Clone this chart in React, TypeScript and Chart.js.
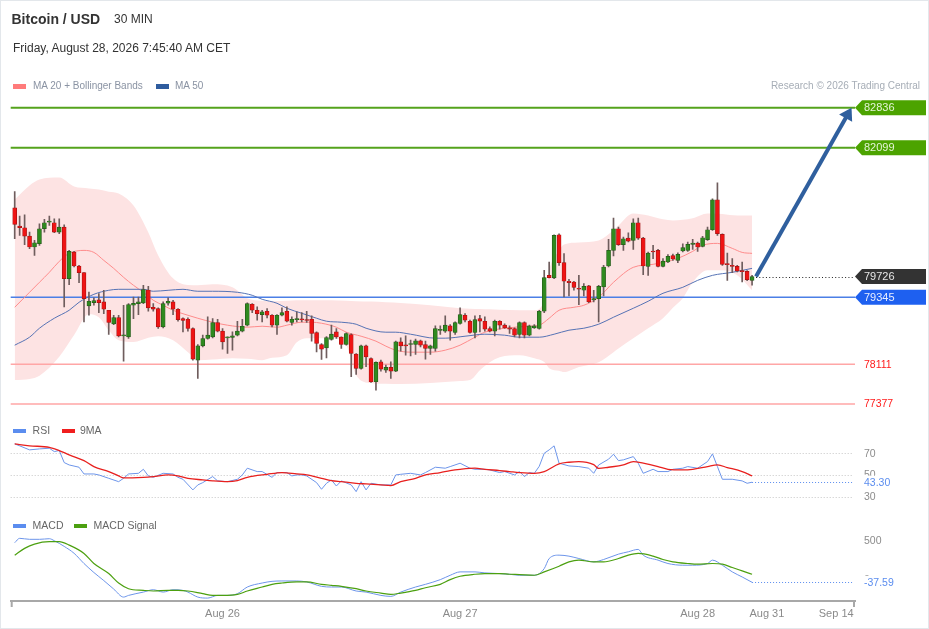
import React, { useEffect, useRef } from 'react';
import { Chart, registerables } from 'chart.js';

Chart.register(...registerables);

const FONT = 'Arial, "Liberation Sans", Helvetica, sans-serif';

// ---------- x axis ----------
const tickIdx = [42, 90, 138, 152, 166];
const tickLabels = ['Aug 26', 'Aug 27', 'Aug 28', 'Aug 31', 'Sep 14'];

// ---------- candles (30 min, index 0 = Aug 25 03:00) ----------
const candleOpen = [
  80993, 80656, 80625, 80472, 80270, 80331, 80607, 80729, 80717, 80545,
  80637, 79688, 80178, 79920, 79798, 79185, 79246, 79295, 79259, 79106,
  78854, 78971, 78634, 78615, 79197, 79228, 79240, 79479, 79161, 79136,
  78799, 79234, 79259, 79124, 78952, 78940, 78769, 78187, 78450, 78585,
  78615, 78879, 78720, 78597, 78603, 78646, 78720, 78830, 79216, 79106,
  79026, 79087, 79014, 78830, 79014, 79087, 78879, 78934, 78934, 78922,
  78940, 78695, 78474, 78413, 78567, 78707, 78609, 78474, 78658, 78297,
  78033, 78450, 78217, 77788, 78156, 78003, 78052, 77984, 78524, 78462,
  78474, 78474, 78542, 78474, 78401, 78401, 78732, 78720, 78818, 78695,
  78861, 79014, 78903, 78695, 78952, 78903, 78769, 78720, 78903, 78830,
  78781, 78769, 78658, 78879, 78646, 78781, 78769, 79087, 79749, 79700,
  80496, 79982, 79639, 79626, 79504, 79473, 79553, 79295, 79320, 79535,
  79920, 80208, 80607, 80313, 80435, 80392, 80717, 80435, 79914, 80190,
  80208, 79914, 79994, 80110, 80025, 80196, 80208, 80319, 80343, 80282,
  80404, 80588, 81140, 80503, 79957, 79927, 79914, 79828, 79822, 79657,
];
const candleHigh = [
  81293, 80839, 80864, 80545, 80392, 80699, 80778, 80839, 80790, 80790,
  80680, 80208, 80190, 79933, 79798, 79442, 79332, 79412, 79473, 79106,
  79014, 79014, 79197, 79228, 79350, 79350, 79565, 79547, 79228, 79148,
  79259, 79332, 79289, 79136, 78965, 78965, 78781, 78474, 78646, 78983,
  78952, 78940, 78769, 78615, 78707, 78903, 78940, 79240, 79228, 79167,
  79106, 79136, 79026, 79026, 79148, 79167, 78983, 79075, 79063, 79087,
  79001, 78707, 78493, 78621, 78830, 78769, 78615, 78689, 78671, 78309,
  78462, 78462, 78229, 78156, 78187, 78095, 78156, 78536, 78597, 78634,
  78554, 78573, 78554, 78536, 78462, 78818, 78818, 79001, 78842, 78891,
  79148, 79044, 78922, 79001, 79014, 78983, 78799, 78922, 78916, 78854,
  78818, 78781, 78891, 78891, 78830, 78842, 79106, 79841, 79994, 80496,
  80515, 80147, 79675, 79639, 79749, 79596, 79565, 79473, 79565, 79933,
  80411, 80803, 80637, 80453, 80533, 80790, 80803, 80447, 80178, 80300,
  80227, 80055, 80129, 80141, 80165, 80331, 80362, 80411, 80362, 80466,
  80637, 81158, 81452, 80515, 80159, 80055, 79933, 79994, 79835, 79749,
];
const candleLow = [
  80423, 80484, 80313, 80239, 80116, 80300, 80545, 80668, 80533, 80515,
  79167, 79577, 79902, 79614, 78891, 79014, 79197, 79063, 79044, 78658,
  78842, 78615, 78168, 78585, 78952, 79026, 79228, 79087, 79087, 78769,
  78781, 79197, 79026, 78903, 78707, 78720, 78187, 77849, 78432, 78573,
  78597, 78707, 78389, 78309, 78370, 78634, 78707, 78818, 79063, 78922,
  78891, 78965, 78799, 78658, 79001, 78891, 78830, 78891, 78891, 78879,
  78536, 78340, 78199, 78229, 78554, 78585, 78401, 78462, 77880, 77923,
  78021, 78064, 77776, 77635, 77984, 77960, 77849, 77972, 78352, 78278,
  78266, 78291, 78432, 78205, 78291, 78352, 78658, 78695, 78554, 78658,
  78848, 78891, 78683, 78597, 78707, 78720, 78707, 78634, 78756, 78769,
  78677, 78615, 78597, 78597, 78634, 78769, 78756, 79063, 79700, 79688,
  79933, 79350, 79369, 79473, 79210, 79369, 79246, 79259, 78891, 79369,
  79902, 80104, 80300, 80208, 80362, 80227, 80411, 79761, 79749, 80055,
  79902, 79902, 79982, 80025, 79982, 80178, 80190, 80227, 80190, 80270,
  80392, 80576, 80484, 79933, 79657, 79798, 79810, 79626, 79651, 79565,
];
const candleClose = [
  80686, 80625, 80472, 80270, 80349, 80607, 80717, 80742, 80545, 80637,
  79688, 80190, 79920, 79798, 79320, 79271, 79283, 79246, 79124, 78879,
  78971, 78634, 78646, 79210, 79234, 79259, 79485, 79148, 79124, 78799,
  79228, 79271, 79124, 78934, 78916, 78769, 78205, 78450, 78585, 78646,
  78879, 78720, 78524, 78603, 78634, 78720, 78811, 79228, 79106, 79044,
  79075, 79014, 78830, 79014, 79063, 78903, 78940, 78940, 78928, 78916,
  78677, 78493, 78389, 78603, 78665, 78615, 78474, 78677, 78309, 78033,
  78450, 78248, 77788, 78144, 78021, 78052, 77984, 78524, 78450, 78450,
  78481, 78542, 78462, 78401, 78450, 78769, 78756, 78830, 78720, 78879,
  79026, 78922, 78695, 78934, 78903, 78756, 78720, 78903, 78830, 78781,
  78756, 78646, 78879, 78646, 78818, 78818, 79087, 79706, 79706, 80484,
  79982, 79639, 79614, 79528, 79492, 79547, 79259, 79320, 79547, 79902,
  80208, 80607, 80313, 80423, 80380, 80717, 80435, 79920, 80159, 80178,
  79914, 80012, 80098, 80049, 80135, 80258, 80319, 80343, 80270, 80441,
  80588, 81140, 80515, 79951, 79945, 79914, 79828, 79816, 79669, 79726,
];

// ---------- Bollinger bands (MA 20) ----------
const bandIdx = [0, 3, 5, 9, 12, 15, 17, 19, 21, 24, 27, 29, 32, 35, 37, 40, 44, 47, 50, 52, 55, 57, 59, 64, 67, 69, 72, 75, 78, 84, 90, 92, 94, 96, 98, 102, 105, 107, 108, 110, 111, 114, 118, 121, 122, 125, 128, 131, 133, 135, 137, 140, 143, 146, 149];
const bandUpper = [81145, 81403, 81513, 81550, 81384, 81350, 81329, 81290, 81256, 81035, 80539, 80116, 79693, 79570, 79565, 79583, 79528, 79326, 79280, 79271, 79280, 79289, 79289, 79289, 79280, 79271, 79265, 79252, 79240, 79197, 79142, 79135, 79130, 79124, 79115, 79105, 79105, 79289, 79840, 80208, 80318, 80355, 80392, 80580, 80668, 80888, 80851, 80780, 80759, 80770, 80800, 80888, 80880, 80851, 80851];
const bandLower = [77819, 77840, 77900, 78250, 78650, 79032, 78977, 78738, 78554, 78520, 78600, 78627, 78554, 78333, 78186, 78200, 78223, 78210, 78186, 78230, 78278, 78517, 78591, 78591, 78462, 77910, 77764, 77750, 77745, 77764, 77800, 77819, 78002, 78149, 78241, 78278, 78220, 78150, 78039, 77990, 77966, 78060, 78149, 78333, 78400, 78591, 78774, 78958, 79150, 79326, 79620, 79840, 79840, 79748, 79473];

const ma20Idx = [0, 3, 5, 7, 9, 11, 14, 16, 18, 20, 22, 24, 26, 28, 30, 32, 35, 37, 40, 43, 47, 50, 53, 55, 58, 60, 62, 65, 67, 70, 73, 75, 77, 80, 84, 87, 90, 93, 95, 99, 104, 106, 108, 110, 113, 115, 118, 121, 125, 129, 131, 134, 137, 139, 142, 145, 147, 149];
const ma20 = [79160, 79436, 79620, 79804, 80006, 80153, 80208, 80171, 80024, 79877, 79712, 79565, 79436, 79289, 79197, 79105, 79013, 78958, 78885, 78830, 78793, 78811, 78793, 78830, 78885, 78885, 78866, 78793, 78701, 78627, 78536, 78444, 78370, 78333, 78333, 78370, 78462, 78609, 78701, 78774, 78811, 78830, 78958, 79105, 79160, 79197, 79344, 79620, 79896, 79951, 79987, 80061, 80190, 80300, 80337, 80245, 80171, 80153];

const ma50Idx = [0, 3, 5, 8, 11, 13, 16, 19, 21, 26, 28, 31, 34, 37, 40, 45, 48, 50, 53, 55, 58, 61, 63, 66, 69, 71, 75, 77, 80, 85, 87, 91, 95, 99, 102, 106, 109, 112, 115, 118, 121, 125, 128, 131, 135, 138, 141, 145, 149];
const ma50 = [78462, 78609, 78774, 78958, 79105, 79252, 79399, 79473, 79491, 79491, 79455, 79473, 79491, 79455, 79455, 79436, 79381, 79307, 79234, 79142, 79050, 78958, 78903, 78885, 78848, 78774, 78701, 78701, 78664, 78591, 78591, 78627, 78664, 78646, 78609, 78609, 78664, 78738, 78774, 78848, 78977, 79142, 79271, 79418, 79528, 79656, 79748, 79804, 79877];

// ---------- levels ----------
const resistanceLevels = [82836, 82099];
const pivotLevel = 79345;
const supportLevels = [78111, 77377];
const lastPrice = 79726;
const arrowFrom = [149.8, 79726];
const arrowTo = [169.1, 82836];

// ---------- RSI ----------
const rsiIdx = [0, 1, 3, 5, 7, 8, 9, 10, 11, 13, 14, 16, 17, 19, 21, 22, 23, 25, 26, 27, 28, 30, 32, 33, 34, 36, 37, 38, 40, 41, 43, 45, 46, 47, 49, 50, 52, 53, 55, 56, 57, 58, 59, 61, 62, 63, 64, 65, 66, 68, 69, 70, 71, 72, 74, 75, 76, 77, 78, 80, 82, 83, 85, 87, 88, 90, 92, 93, 95, 96, 98, 99, 101, 102, 103, 104, 105, 106, 107, 108, 109, 110, 112, 114, 116, 117, 118, 120, 121, 122, 123, 125, 126, 127, 129, 130, 132, 133, 135, 136, 138, 140, 141, 142, 143, 145, 147, 148, 149];
const rsiVals = [78.6, 76.8, 73.1, 74.0, 74.6, 71.5, 72.5, 61.4, 59.2, 57.1, 50.9, 50.9, 50.0, 46.9, 43.8, 46.9, 50.9, 51.5, 55.2, 49.1, 47.8, 51.5, 50.9, 47.8, 46.0, 36.2, 40.8, 42.9, 48.5, 44.5, 43.8, 46.0, 50.0, 56.2, 53.1, 53.1, 47.8, 52.2, 52.2, 49.1, 50.0, 50.0, 49.1, 42.9, 36.8, 42.3, 45.4, 39.8, 44.5, 40.8, 34.6, 43.8, 36.2, 42.3, 40.8, 40.8, 40.8, 50.0, 50.6, 51.5, 50.0, 52.2, 57.1, 56.2, 57.7, 60.8, 56.2, 55.2, 55.2, 54.6, 52.2, 53.1, 50.0, 53.1, 48.5, 52.2, 51.5, 58.0, 70.0, 73.1, 76.8, 60.8, 58.3, 57.7, 56.2, 51.5, 59.2, 64.5, 69.1, 63.2, 63.9, 66.9, 60.8, 51.5, 55.2, 53.1, 53.1, 55.2, 56.2, 57.7, 56.2, 62.3, 69.4, 57.7, 46.0, 46.0, 44.5, 42.3, 43.3];
const rsiMaIdx = [0, 3, 7, 9, 11, 14, 16, 19, 21, 22, 26, 28, 31, 33, 35, 38, 40, 43, 45, 47, 51, 54, 57, 59, 62, 64, 66, 69, 71, 74, 76, 78, 81, 83, 86, 88, 90, 93, 95, 98, 100, 102, 105, 107, 110, 112, 114, 117, 118, 120, 123, 125, 127, 130, 132, 135, 137, 140, 142, 144, 147, 149];
const rsiMaVals = [78.6, 76.8, 75.5, 72.5, 68.5, 63.2, 57.7, 53.1, 49.1, 47.2, 47.8, 48.5, 50.0, 49.1, 46.9, 45.4, 44.5, 43.8, 44.8, 47.8, 50.6, 52.2, 50.9, 50.0, 46.9, 44.8, 43.8, 42.3, 41.7, 40.8, 40.2, 43.8, 46.9, 50.0, 52.2, 54.0, 55.2, 56.2, 55.2, 54.0, 53.1, 52.2, 51.5, 53.1, 60.2, 61.7, 62.3, 59.5, 56.0, 57.1, 59.2, 62.3, 60.8, 57.7, 55.2, 54.6, 55.2, 57.7, 59.2, 56.8, 53.1, 49.1];
const rsiGrid = [70, 50, 30];
const rsiLast = 43.3;

// ---------- MACD ----------
const macdIdx = [0, 1, 3, 5, 7, 8, 10, 12, 14, 16, 18, 20, 22, 23, 26, 28, 30, 32, 34, 35, 37, 39, 41, 43, 45, 47, 50, 52, 54, 57, 59, 62, 64, 66, 69, 71, 74, 76, 78, 81, 83, 86, 88, 90, 93, 95, 98, 100, 102, 105, 107, 108, 110, 112, 114, 117, 119, 122, 124, 126, 127, 130, 132, 135, 137, 140, 141, 143, 145, 147, 149];
const macdVals = [478, 535, 522, 522, 530, 504, 430, 340, 207, 90, -15, -125, -230, -208, -165, -134, -165, -134, -143, -165, -230, -243, -208, -208, -186, -99, -47, -25, -20, -20, -33, -90, -99, -99, -151, -165, -208, -221, -165, -99, -64, -3, 54, 98, 98, 85, 76, 67, 54, 54, 141, 272, 316, 303, 272, 229, 259, 329, 360, 391, 316, 251, 207, 185, 185, 207, 251, 185, 98, 32, -37.59];
const sigIdx = [0, 2, 4, 7, 9, 11, 14, 16, 19, 21, 23, 26, 28, 31, 33, 35, 38, 40, 42, 45, 47, 50, 52, 54, 57, 59, 62, 64, 66, 69, 71, 74, 76, 78, 81, 83, 86, 88, 90, 93, 95, 98, 100, 102, 105, 107, 110, 112, 114, 117, 119, 122, 124, 126, 129, 131, 133, 136, 138, 141, 143, 145, 147, 149];
const sigVals = [316, 404, 460, 491, 491, 447, 338, 207, 76, -47, -121, -143, -151, -143, -143, -151, -186, -208, -208, -195, -151, -99, -64, -47, -33, -33, -64, -77, -90, -121, -151, -178, -195, -178, -143, -108, -64, -3, 41, 67, 76, 76, 67, 63, 54, 98, 172, 229, 251, 229, 229, 272, 316, 338, 303, 259, 229, 207, 198, 207, 198, 155, 111, 67];
const macdTicks = [500, 0];
const macdLast = -37.59;

const pts = (xs: number[], ys: number[]) => xs.map((x, i) => ({ x, y: ys[i] }));

const overlayPlugin = {
  id: 'overlay',
  beforeDatasetsDraw(chart: any) {
    const { ctx, chartArea: a, scales } = chart;
    const yP = scales.yP;
    const yR = scales.yR;
    ctx.save();
    ctx.lineWidth = 1;
    ctx.strokeStyle = '#c6c6c6';
    ctx.setLineDash([1, 2]);
    for (const v of rsiGrid) {
      const py = Math.round(yR.getPixelForValue(v)) + 0.5;
      ctx.beginPath();
      ctx.moveTo(a.left, py);
      ctx.lineTo(a.right - 2, py);
      ctx.stroke();
    }
    ctx.setLineDash([]);
    const hline = (p: number, color: string, w: number) => {
      const py = yP.getPixelForValue(p);
      ctx.strokeStyle = color;
      ctx.lineWidth = w;
      ctx.beginPath();
      ctx.moveTo(a.left, py);
      ctx.lineTo(a.right, py);
      ctx.stroke();
    };
    resistanceLevels.forEach((p) => hline(p, '#55a31c', 2));
    hline(pivotLevel, '#4b7fe6', 1.5);
    supportLevels.forEach((p) => hline(p, '#ffa6a6', 1.5));
    ctx.restore();
  },
  afterDraw(chart: any) {
    const { ctx, chartArea: a, scales } = chart;
    const x = scales.x;
    const yP = scales.yP;
    const yR = scales.yR;
    const yM = scales.yM;
    ctx.save();

    // last price dotted line
    const lx = x.getPixelForValue(arrowFrom[0]);
    const lpy = Math.round(yP.getPixelForValue(lastPrice)) + 0.5;
    ctx.setLineDash([1, 2.3]);
    ctx.strokeStyle = '#222';
    ctx.lineWidth = 1;
    ctx.beginPath();
    ctx.moveTo(lx, lpy);
    ctx.lineTo(a.right, lpy);
    ctx.stroke();
    ctx.setLineDash([]);

    // arrow
    const x0 = x.getPixelForValue(arrowFrom[0]);
    const y0 = yP.getPixelForValue(arrowFrom[1]);
    const x1 = x.getPixelForValue(arrowTo[0]);
    const y1 = yP.getPixelForValue(arrowTo[1]);
    const ang = Math.atan2(y1 - y0, x1 - x0);
    const hl = 12;
    const hw = 7.5;
    const bx = x1 - hl * Math.cos(ang);
    const by = y1 - hl * Math.sin(ang);
    ctx.strokeStyle = '#2f5f9e';
    ctx.fillStyle = '#2f5f9e';
    ctx.lineWidth = 4;
    ctx.beginPath();
    ctx.moveTo(x0, y0);
    ctx.lineTo(bx + Math.cos(ang), by + Math.sin(ang));
    ctx.stroke();
    ctx.beginPath();
    ctx.moveTo(x1, y1);
    ctx.lineTo(bx + hw * Math.sin(ang), by - hw * Math.cos(ang));
    ctx.lineTo(bx - hw * Math.sin(ang), by + hw * Math.cos(ang));
    ctx.closePath();
    ctx.fill();

    // price tags
    const tagRight = a.right + 71;
    const tag = (p: number, fill: string, txt: string) => {
      const py = yP.getPixelForValue(p);
      const h = 15;
      ctx.fillStyle = fill;
      ctx.beginPath();
      ctx.moveTo(a.right, py);
      ctx.lineTo(a.right + 7, py - h / 2);
      ctx.lineTo(tagRight, py - h / 2);
      ctx.lineTo(tagRight, py + h / 2);
      ctx.lineTo(a.right + 7, py + h / 2);
      ctx.closePath();
      ctx.fill();
      ctx.fillStyle = txt;
      ctx.font = `11px ${FONT}`;
      ctx.textBaseline = 'middle';
      ctx.textAlign = 'left';
      ctx.fillText(String(p), a.right + 9, py + 0.5);
    };
    resistanceLevels.forEach((p) => tag(p, '#4ca300', '#e4f4d6'));
    tag(lastPrice, '#333333', '#e6e6e6');
    tag(pivotLevel, '#1e60f0', '#e8eeff');
    ctx.font = `10.5px ${FONT}`;
    ctx.textBaseline = 'middle';
    ctx.fillStyle = '#ff1a1a';
    supportLevels.forEach((p) => ctx.fillText(String(p), a.right + 9, yP.getPixelForValue(p) + 0.5));

    // RSI labels
    ctx.fillStyle = '#8c8c8c';
    rsiGrid.forEach((v) => ctx.fillText(String(v), a.right + 9, yR.getPixelForValue(v) + 0.5));
    const rpy = yR.getPixelForValue(rsiLast);
    ctx.setLineDash([1, 2]);
    ctx.strokeStyle = '#5b8def';
    ctx.lineWidth = 1;
    ctx.beginPath();
    ctx.moveTo(x.getPixelForValue(149), Math.round(rpy) + 0.5);
    ctx.lineTo(a.right - 2, Math.round(rpy) + 0.5);
    ctx.stroke();
    ctx.setLineDash([]);
    ctx.fillStyle = '#ffffff';
    ctx.fillRect(a.right + 5, rpy - 6.5, 44, 13);
    ctx.fillStyle = '#5b8def';
    ctx.fillText(rsiLast.toFixed(2), a.right + 9, rpy + 0.5);

    // MACD labels
    ctx.fillStyle = '#8c8c8c';
    macdTicks.forEach((v) => ctx.fillText(String(v), a.right + 9, yM.getPixelForValue(v) + 0.5));
    const mpy = yM.getPixelForValue(macdLast);
    ctx.setLineDash([1, 2]);
    ctx.strokeStyle = '#5b8def';
    ctx.beginPath();
    ctx.moveTo(x.getPixelForValue(149), Math.round(mpy) + 0.5);
    ctx.lineTo(a.right - 2, Math.round(mpy) + 0.5);
    ctx.stroke();
    ctx.setLineDash([]);
    ctx.fillStyle = '#ffffff';
    ctx.fillRect(a.right + 5, mpy - 6.5, 44, 13);
    ctx.fillStyle = '#5b8def';
    ctx.fillText(macdLast.toFixed(2), a.right + 9, mpy + 0.5);

    // axis end ticks
    ctx.strokeStyle = '#a8a8a8';
    ctx.lineWidth = 2;
    [a.left + 1, a.right - 1].forEach((px) => {
      ctx.beginPath();
      ctx.moveTo(px, a.bottom);
      ctx.lineTo(px, a.bottom + 6);
      ctx.stroke();
    });
    ctx.restore();
  },
};

function Txt(props: any) {
  const { x, right, cy, size, color, weight, children } = props;
  const lh = Math.round(size * 1.2);
  return (
    <div
      style={{
        position: 'absolute',
        left: right === undefined ? x : undefined,
        right,
        top: cy - lh / 2,
        fontSize: size,
        lineHeight: lh + 'px',
        color,
        fontWeight: weight || 400,
        fontFamily: FONT,
        whiteSpace: 'nowrap',
      }}
    >
      {children}
    </div>
  );
}

function Swatch(props: any) {
  const { x, y, color } = props;
  return <div style={{ position: 'absolute', left: x, top: y, width: 13, height: 4.5, background: color }} />;
}

export default function App() {
  const ref = useRef<HTMLCanvasElement>(null);

  useEffect(() => {
    const canvas = ref.current;
    if (!canvas) return;
    const up = candleClose.map((c, i) => c >= candleOpen[i]);
    const chart = new Chart(canvas, {
      type: 'line',
      data: {
        datasets: [
          {
            label: 'BB upper',
            data: pts(bandIdx, bandUpper),
            yAxisID: 'yP',
            borderWidth: 0,
            pointRadius: 0,
            fill: '+1',
            backgroundColor: '#fde3e3',
            cubicInterpolationMode: 'monotone',
            order: 20,
          },
          {
            label: 'BB lower',
            data: pts(bandIdx, bandLower),
            yAxisID: 'yP',
            borderWidth: 0,
            pointRadius: 0,
            fill: false,
            cubicInterpolationMode: 'monotone',
            order: 19,
          },
          {
            label: 'MA 20',
            data: pts(ma20Idx, ma20),
            yAxisID: 'yP',
            borderColor: '#ff8c8c',
            borderWidth: 1,
            pointRadius: 0,
            cubicInterpolationMode: 'monotone',
            order: 10,
          },
          {
            label: 'MA 50',
            data: pts(ma50Idx, ma50),
            yAxisID: 'yP',
            borderColor: '#5673b5',
            borderWidth: 1,
            pointRadius: 0,
            cubicInterpolationMode: 'monotone',
            order: 9,
          },
          {
            type: 'bar',
            label: 'wick',
            data: candleOpen.map((_, i) => ({ x: i, y: [candleLow[i], candleHigh[i]] })),
            yAxisID: 'yP',
            barThickness: 1,
            backgroundColor: '#6f5d5d',
            borderWidth: 0,
            grouped: false,
            order: 2,
          },
          {
            type: 'bar',
            label: 'body',
            data: candleOpen.map((o, i) => ({ x: i, y: [o, candleClose[i]] })),
            yAxisID: 'yP',
            barThickness: 4,
            backgroundColor: up.map((u) => (u ? '#2f8a1f' : '#ef1414')),
            borderColor: up.map((u) => (u ? '#24581a' : '#a51212')),
            borderWidth: 0.7,
            borderSkipped: false,
            minBarLength: 1,
            grouped: false,
            order: 1,
          },
          {
            label: 'RSI',
            data: pts(rsiIdx, rsiVals),
            yAxisID: 'yR',
            borderColor: '#6d95ea',
            borderWidth: 1,
            pointRadius: 0,
            tension: 0,
            order: 4,
          },
          {
            label: '9MA',
            data: pts(rsiMaIdx, rsiMaVals),
            yAxisID: 'yR',
            borderColor: '#e8201e',
            borderWidth: 1.3,
            pointRadius: 0,
            cubicInterpolationMode: 'monotone',
            order: 3,
          },
          {
            label: 'MACD',
            data: pts(macdIdx, macdVals),
            yAxisID: 'yM',
            borderColor: '#6d95ea',
            borderWidth: 1,
            pointRadius: 0,
            cubicInterpolationMode: 'monotone',
            order: 6,
          },
          {
            label: 'MACD Signal',
            data: pts(sigIdx, sigVals),
            yAxisID: 'yM',
            borderColor: '#4ca010',
            borderWidth: 1.2,
            pointRadius: 0,
            cubicInterpolationMode: 'monotone',
            order: 5,
          },
        ],
      } as any,
      options: {
        animation: false,
        responsive: false,
        events: [],
        layout: { padding: { left: 10.7, right: 74, top: 95, bottom: 2.8 } },
        plugins: {
          legend: { display: false },
          tooltip: { enabled: false },
          filler: { drawTime: 'beforeDatasetsDraw' },
        },
        scales: {
          x: {
            type: 'linear',
            min: -0.81,
            max: 169.8,
            offset: false,
            grid: { display: false, drawTicks: false },
            border: { display: true, color: '#a8a8a8', width: 2 },
            afterBuildTicks: (axis: any) => {
              axis.ticks = tickIdx.map((v) => ({ value: v }));
            },
            ticks: {
              autoSkip: false,
              maxRotation: 0,
              padding: 6,
              color: '#8a8a8a',
              font: { family: FONT, size: 11 },
              callback: (v: any) => {
                const k = tickIdx.indexOf(Number(v));
                return k >= 0 ? tickLabels[k] : '';
              },
            },
          },
          yP: { type: 'linear', display: false, min: 73750, max: 83070, beginAtZero: false },
          yR: { type: 'linear', display: false, min: -66.2, max: 400.2, beginAtZero: false },
          yM: { type: 'linear', display: false, min: -281, max: 6307, beginAtZero: false },
        },
      } as any,
      plugins: [overlayPlugin],
    });
    return () => chart.destroy();
  }, []);

  return (
    <div style={{ position: 'fixed', left: 0, top: 0, width: 929, height: 629, background: '#fff', overflow: 'hidden' }}>
      <canvas ref={ref} width={929} height={629} style={{ position: 'absolute', left: 0, top: 0 }} />
      <Txt x={11.5} cy={19.2} size={14} weight={700} color="#333">Bitcoin / USD</Txt>
      <Txt x={114} cy={19.2} size={12} color="#333">30 MIN</Txt>
      <Txt x={13} cy={48.3} size={12} color="#333">Friday, August 28, 2026 7:45:40 AM CET</Txt>

      <Swatch x={13} y={84} color="#ff7b7b" />
      <Txt x={33} cy={86.2} size={10} color="#8a93a3">MA 20 + Bollinger Bands</Txt>
      <Swatch x={156} y={84} color="#2f5c9e" />
      <Txt x={175} cy={86.2} size={10} color="#8a93a3">MA 50</Txt>
      <Txt right={9} cy={85.8} size={10} color="#a6adb6">Research © 2026 Trading Central</Txt>

      <Swatch x={13} y={428.5} color="#5b8def" />
      <Txt x={32.6} cy={430.7} size={10.5} color="#666">RSI</Txt>
      <Swatch x={62} y={428.5} color="#f01e1e" />
      <Txt x={80} cy={430.7} size={10.5} color="#666">9MA</Txt>

      <Swatch x={13} y={523.5} color="#5b8def" />
      <Txt x={32.6} cy={525.7} size={10.5} color="#666">MACD</Txt>
      <Swatch x={74} y={523.5} color="#4ca010" />
      <Txt x={93.6} cy={525.7} size={10.5} color="#666">MACD Signal</Txt>

      <div style={{ position: 'absolute', left: 0, top: 0, width: 929, height: 629, boxSizing: 'border-box', border: '1px solid #e3e7eb', pointerEvents: 'none' }} />
    </div>
  );
}
